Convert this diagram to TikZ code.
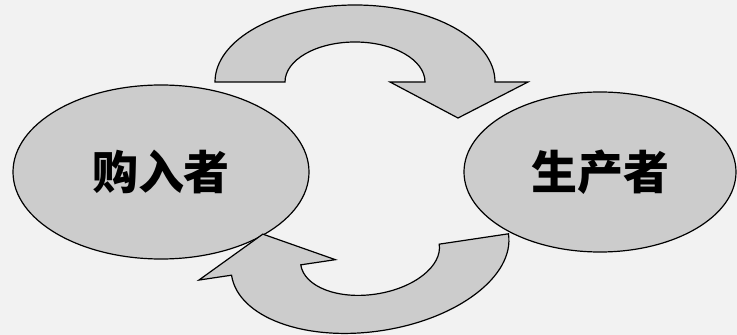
\documentclass[tikz,border=0pt]{standalone}
\usepackage{fontspec}
\newfontfamily\cjk{Noto Sans CJK SC}
\usepackage{xcolor}
\usepackage{tikz}
\usetikzlibrary{shapes, positioning}
\definecolor{speckle}{gray}{0.80}
\definecolor{paper}{gray}{0.95}

\tikzset{
    party/.style={ellipse, draw, line width=1.2pt, fill=speckle, inner sep=0pt,
        font=\cjk\bfseries\fontsize{46}{50}\selectfont},
    ringarrow/.pic={
        \filldraw[line width=1.2pt, fill=speckle, line join=miter]
            (-140,0) arc[start angle=180, end angle=0, x radius=140, y radius=77]
            -- (173,0) -- (103,-36) -- (35,0) -- (70,0)
            arc[start angle=0, end angle=180, x radius=70, y radius=40] -- cycle;
    }
}

\begin{document}
\begin{tikzpicture}[x=1pt, y=1pt]
    \useasboundingbox (0,0) rectangle (737,335);
    \fill[paper] (0,0) rectangle (737,335);

    % Nodes
    \node[party, minimum width=296pt, minimum height=174pt] (buyer) at (161,163) {购入者};
    \node[party, minimum width=272pt, minimum height=160pt] (maker) at (600,163) {生产者};

    % Arrows
    \pic at (355,253) {ringarrow};
    \pic[rotate=188.5] at (370,80.5) {ringarrow};
\end{tikzpicture}
\end{document}
